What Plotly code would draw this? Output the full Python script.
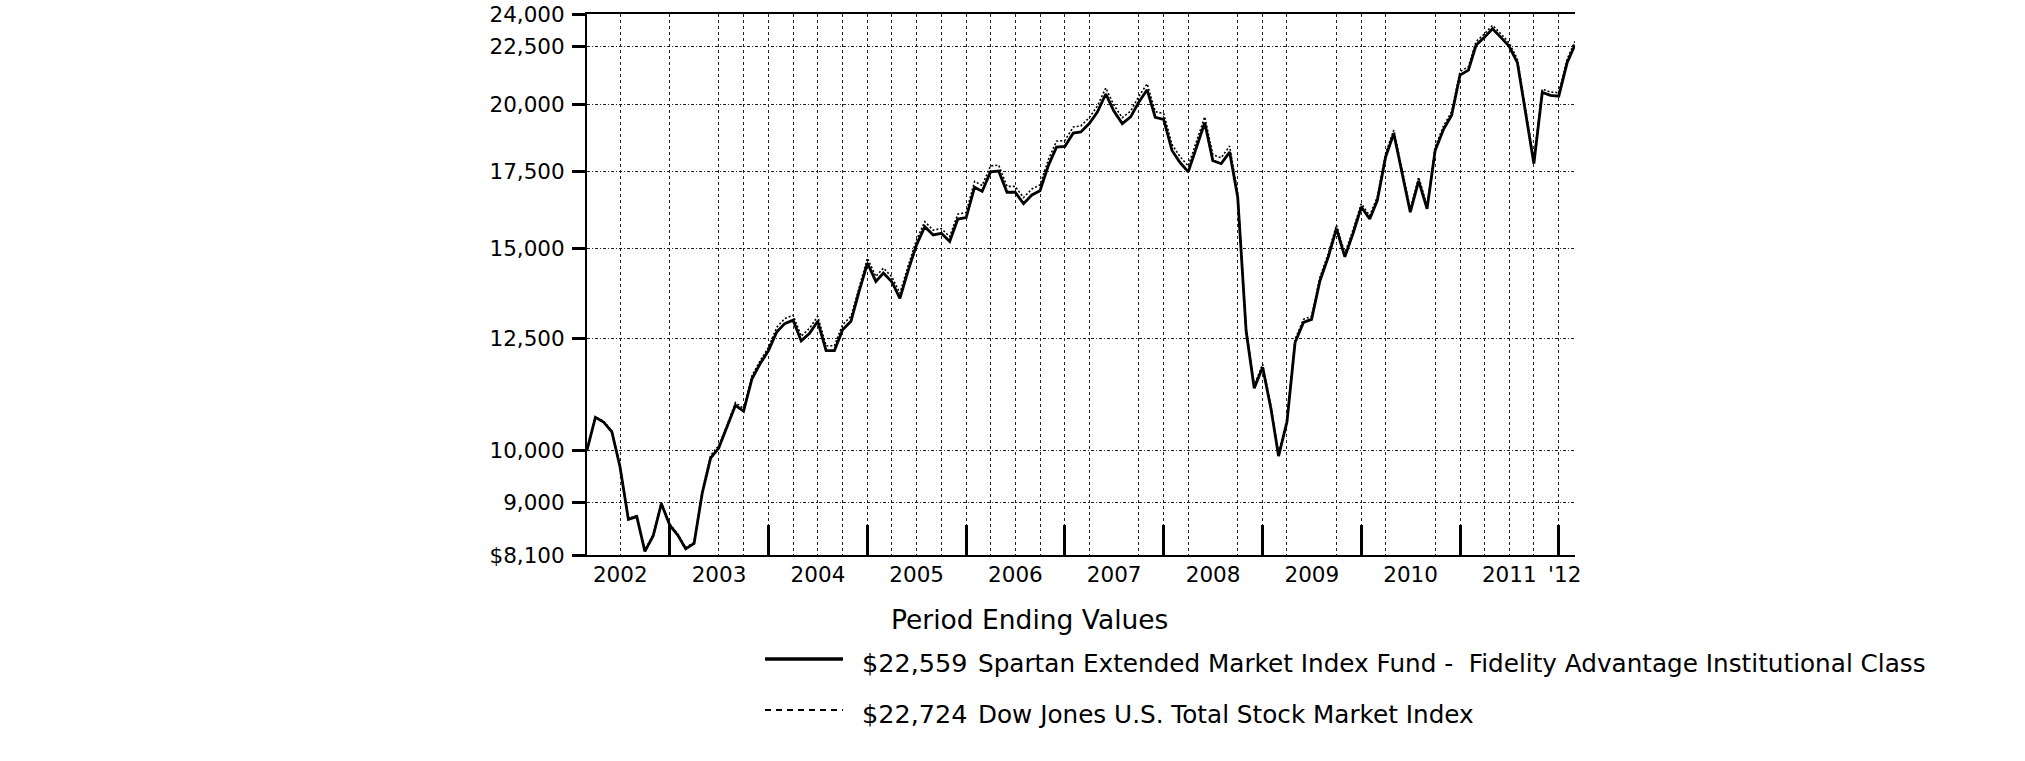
import pandas as pd
import plotly.graph_objects as go

# month-end dates, Feb 2002 .. Feb 2012
months = pd.date_range("2002-02-28", periods=121, freq=pd.offsets.MonthEnd())

fund_values = [
    10000, 10680, 10580, 10370, 9670, 8700, 8750, 8160, 8420, 8980, 8600,
    8420, 8200, 8290, 9170, 9840, 10040, 10460, 10940, 10810, 11540, 11890, 12210,
    12680, 12890, 12980, 12450, 12640, 12950, 12210, 12210, 12730, 12950, 13750, 14550,
    14030, 14270, 14020, 13560, 14350, 15090, 15660, 15400, 15450, 15200, 15900, 15950,
    16950, 16810, 17480, 17510, 16780, 16780, 16400, 16690, 16830, 17710, 18370, 18400,
    18900, 18940, 19260, 19710, 20440, 19750, 19260, 19520, 20100, 20610, 19500, 19420,
    18250, 17820, 17480, 18370, 19290, 17880, 17770, 18190, 16610, 12700, 11320, 11810,
    10860, 9880, 10580, 12410, 12920, 13000, 14050, 14740, 15600, 14740, 15440, 16290,
    15900, 16500, 18020, 18880, 17420, 16120, 17170, 16230, 18250, 19040, 19590, 21230,
    21440, 22540, 22900, 23300, 22900, 22500, 21770, 19620, 17770, 20500, 20380, 20350,
    21770, 22559,
]
index_values = [
    10000, 10690, 10600, 10390, 9690, 8720, 8770, 8180, 8440, 9000, 8620,
    8440, 8220, 8310, 9220, 9890, 10090, 10510, 11000, 10870, 11610, 11960, 12290,
    12800, 13020, 13110, 12570, 12770, 13080, 12330, 12330, 12860, 13080, 13890, 14700,
    14170, 14410, 14160, 13700, 14490, 15240, 15820, 15550, 15600, 15350, 16060, 16110,
    17150, 17010, 17690, 17720, 16980, 16980, 16600, 16890, 17030, 17920, 18590, 18620,
    19130, 19170, 19490, 19950, 20690, 19990, 19490, 19750, 20340, 20860, 19730, 19650,
    18470, 18030, 17690, 18590, 19520, 18090, 17980, 18410, 16750, 12780, 11390, 11880,
    10920, 9930, 10640, 12490, 13000, 13080, 14150, 14840, 15710, 14840, 15550, 16400,
    16010, 16620, 18150, 19010, 17540, 16230, 17290, 16340, 18380, 19170, 19730, 21380,
    21590, 22700, 23060, 23460, 23060, 22660, 21920, 19760, 17900, 20640, 20520, 20490,
    21920, 22724,
]

y_ticks = [8100, 9000, 10000, 12500, 15000, 17500, 20000, 22500, 24000]
y_ticktext = ["$8,100", "9,000", "10,000", "12,500", "15,000", "17,500", "20,000", "22,500", "24,000"]

year_ends = ["%d-12-31" % y for y in range(2002, 2012)]
quarter_grid = [
    "2002-06-30", "2003-06-30", "2003-09-30", "2004-03-31", "2004-06-30", "2004-09-30",
    "2005-03-31", "2005-06-30", "2005-09-30", "2006-03-31", "2006-06-30", "2006-09-30",
    "2007-03-31", "2007-09-30", "2008-03-31", "2008-09-30", "2009-03-31", "2009-09-30",
    "2010-03-31", "2010-09-30", "2011-03-31", "2011-06-30", "2011-09-30",
]
year_label_pos = ["%d-07-01" % y for y in range(2002, 2012)] + ["2012-01-22"]
year_labels = [str(y) for y in range(2002, 2012)] + ["'12"]

legend_title = "Period Ending Values"
fund_end = "$22,559"
fund_name = "Spartan Extended Market Index Fund -  Fidelity Advantage Institutional Class"
index_end = "$22,724"
index_name = "Dow Jones U.S. Total Stock Market Index"

X_RANGE = ["2002-02-28", "2012-02-29"]
FONT = "DejaVu Sans"

# body margin is zeroed in the page, so figure = window
W, H = 2025, 761
# plot box on the page: x 587..1575, y 14..555
L, T = 587, 14
R, B = W - 1575, H - 555
PW, PH = W - L - R, H - T - B


def px_x(px):
    # page pixel -> paper fraction
    return (px - L) / PW


def px_y(py):
    return (H - B - py) / PH


fig = go.Figure()
fig.add_trace(go.Scatter(
    x=months, y=index_values, mode="lines", showlegend=False,
    line=dict(color="black", width=1.6, dash="2px,2px"),
))
fig.add_trace(go.Scatter(
    x=months, y=fund_values, mode="lines", showlegend=False,
    line=dict(color="black", width=2.8),
))
# invisible copy so the year-label axis gets drawn
fig.add_trace(go.Scatter(
    x=months, y=fund_values, mode="lines", showlegend=False, hoverinfo="skip",
    line=dict(color="rgba(0,0,0,0)", width=0), xaxis="x2",
))

grid = dict(color="#222", width=1, dash="3px,3px")

fig.update_layout(
    width=W, height=H,
    margin=dict(l=L, r=R, t=T, b=B, autoexpand=False),
    paper_bgcolor="white", plot_bgcolor="white",
    font=dict(family=FONT, color="black", size=21.5),
    xaxis=dict(
        type="date", range=X_RANGE, automargin=False,
        tickmode="array", tickvals=year_ends, showticklabels=False,
        ticks="inside", ticklen=30, tickwidth=3, tickcolor="black",
        showgrid=True, gridcolor=grid["color"], gridwidth=1, griddash=grid["dash"],
        minor=dict(tickmode="array", tickvals=quarter_grid, ticks="",
                   showgrid=True, gridcolor=grid["color"], gridwidth=1, griddash=grid["dash"]),
        showline=True, linecolor="black", linewidth=2, mirror=True,
        zeroline=False,
    ),
    xaxis2=dict(
        type="date", range=X_RANGE, overlaying="x", anchor="y", side="bottom",
        automargin=False, ticklabelstandoff=4,
        tickmode="array", tickvals=year_label_pos, ticktext=year_labels,
        ticks="", showgrid=False, showline=False, zeroline=False,
        tickfont=dict(family=FONT, size=21.5, color="black"),
    ),
    yaxis=dict(
        type="log", range=[3.90849, 4.38021], automargin=False,
        tickmode="array", tickvals=y_ticks, ticktext=y_ticktext,
        ticks="outside", ticklen=13, tickwidth=2.5, tickcolor="black",
        ticklabelstandoff=3, ticklabeloverflow="allow",
        showgrid=True, gridcolor=grid["color"], gridwidth=1, griddash="3px,2px,1px,2px",
        showline=True, linecolor="black", linewidth=2,
        zeroline=False,
        tickfont=dict(family=FONT, size=21.5, color="black"),
    ),
)

# hand-made legend below the chart
fig.add_annotation(
    text=legend_title, xref="paper", yref="paper", x=px_x(889), y=px_y(619),
    xanchor="left", yanchor="middle", showarrow=False, font=dict(size=26.5),
)
rows = [
    (659, fund_end, fund_name, dict(color="black", width=3.5)),
    (710, index_end, index_name, dict(color="black", width=2, dash="6px,5px")),
]
for py, val, name, line in rows:
    fig.add_shape(type="line", xref="paper", yref="paper",
                  x0=px_x(765), x1=px_x(843), y0=px_y(py), y1=px_y(py), line=line)
    fig.add_annotation(text=val, xref="paper", yref="paper", x=px_x(860), y=px_y(py + 4),
                       xanchor="left", yanchor="middle", showarrow=False, font=dict(size=25.5))
    fig.add_annotation(text=name, xref="paper", yref="paper", x=px_x(976), y=px_y(py + 4),
                       xanchor="left", yanchor="middle", showarrow=False, font=dict(size=24.7))

fig.write_html("out.html", config={"displayModeBar": False},
               post_script="document.body.style.margin = '0';")
